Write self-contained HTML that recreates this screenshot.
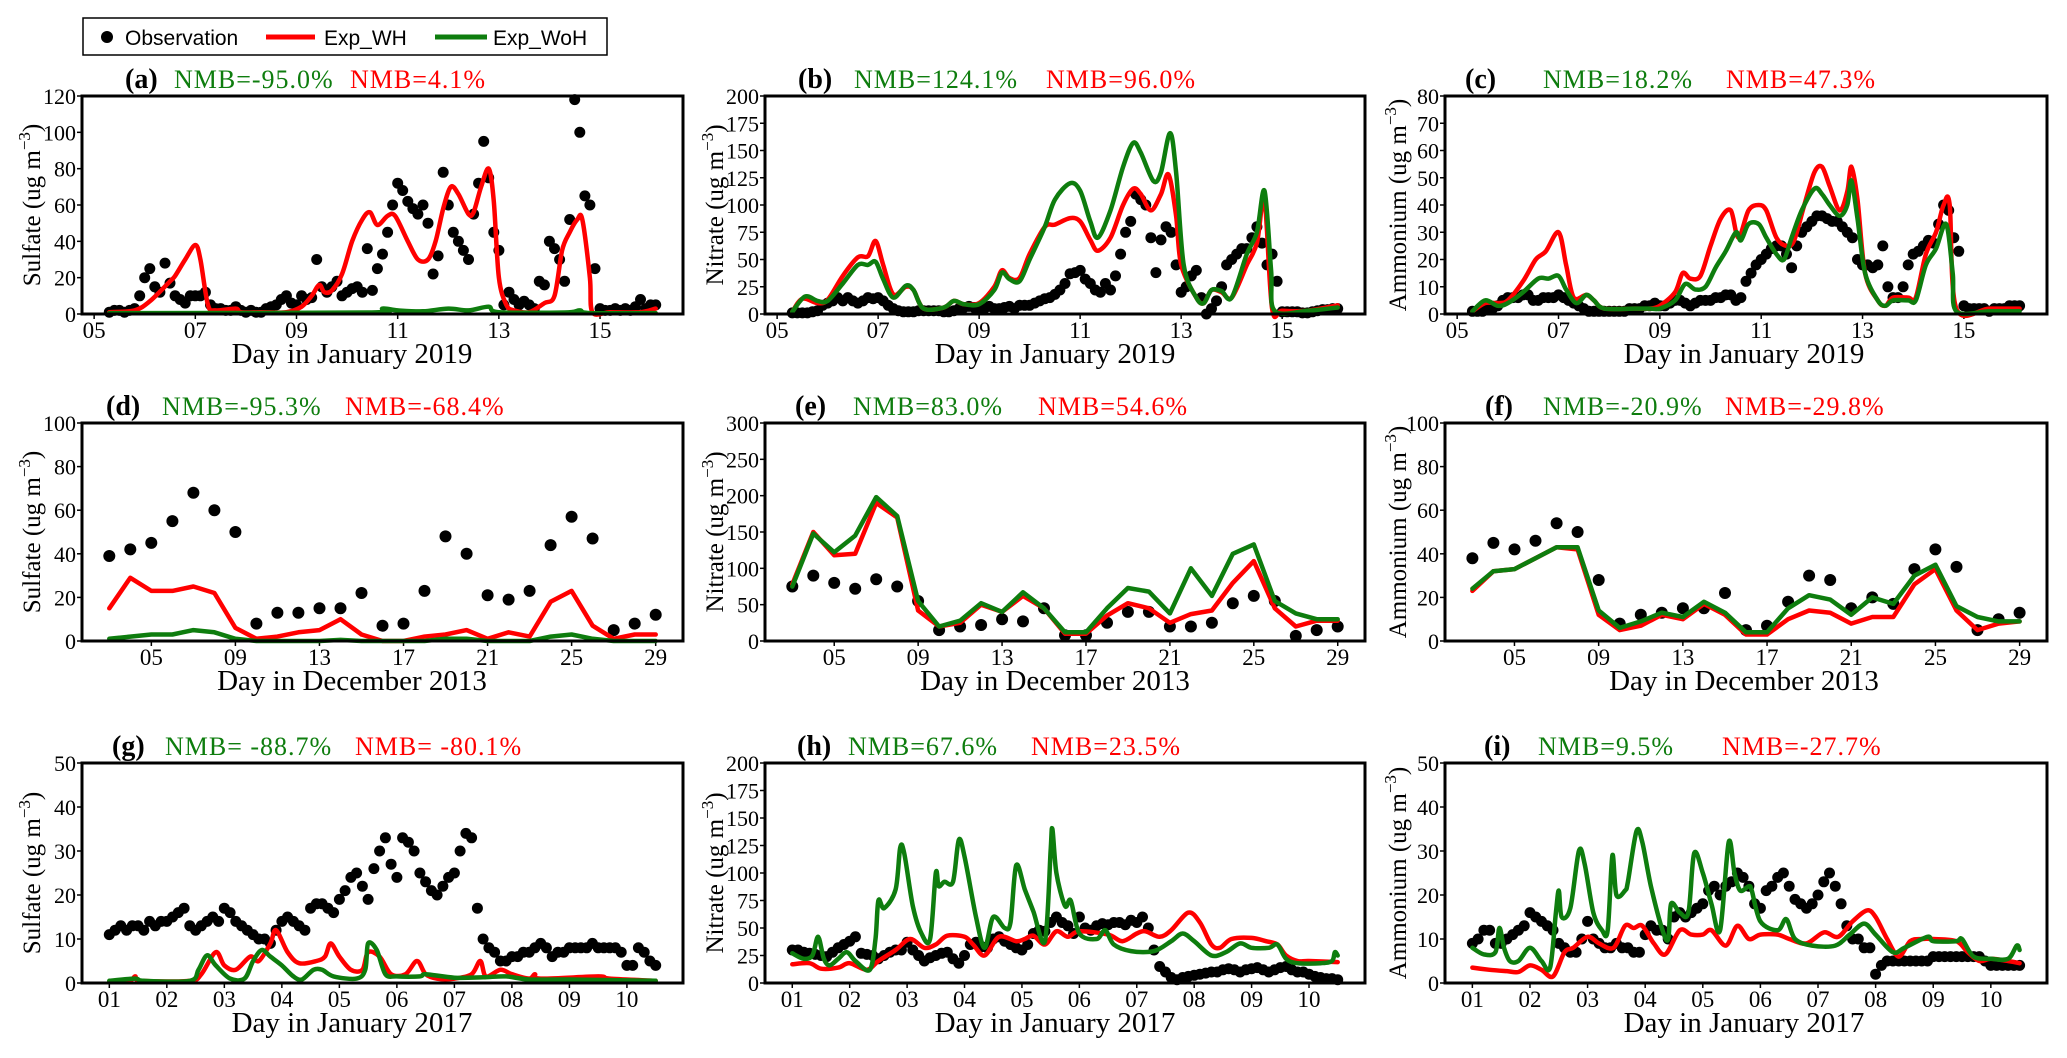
<!DOCTYPE html>
<html><head><meta charset="utf-8"><title>Sulfate, nitrate and ammonium: observations vs Exp_WH and Exp_WoH</title>
<style>
html,body{margin:0;padding:0;background:#fff;}
svg{display:block;}
text{font-family:"Liberation Serif",serif;}
.sans{font-family:"Liberation Sans",sans-serif;}
</style></head>
<body>
<svg id="chart" width="2067" height="1058" viewBox="0 0 2067 1058" xmlns="http://www.w3.org/2000/svg" fill="#000">
  <g>
    <rect x="83" y="18" width="524" height="37" fill="#fff" stroke="#000" stroke-width="1.5"/>
    <circle cx="107" cy="37" r="6" fill="#000"/>
    <text x="125" y="45" class="sans" font-size="21" fill="#000">Observation</text>
    <line x1="266" y1="37" x2="315" y2="37" stroke="#ff0000" stroke-width="5"/>
    <text x="324" y="45" class="sans" font-size="21" fill="#000">Exp_WH</text>
    <line x1="435" y1="37" x2="487" y2="37" stroke="#0e7d0e" stroke-width="5"/>
    <text x="493" y="45" class="sans" font-size="21" fill="#000">Exp_WoH</text>
  </g>
</svg>
<script>
// ---------- DATA ----------
const aObs = [1,2,2,1,2,3,10, 20,25,15,12,28,17,10,8,6,10, 10,10,12,5,3,3,2,2,4,2, 1,2,1,1,3,4,5,8,10,6, 5,10,8,9,30,15,12,15,18,10, 12,14,15,12,36,13,25,33,45,60, 72,68,62,58,55,60,50,22,32,78, 60,45,40,35,30,55,72,95,75,45, 35,5,12,8,5,7,5,3,18,16, 40,36,30,18,52,118,100,65,60,25, 3,2,2,3,2,3,2,4,8,3,5,5];
const aWhT = [5.3,5.8,6.1,6.5,6.6,6.8,7.0,7.1,7.25,7.4,7.8,7.9,8.3,8.8,9.1,9.3,9.45,9.55,9.7,9.9,10.1,10.3,10.45,10.6,10.8,10.95,11.2,11.4,11.6,11.75,11.9,12.05,12.2,12.4,12.5,12.65,12.8,12.9,13.0,13.15,13.3,13.6,13.9,14.1,14.25,14.4,14.55,14.65,14.8,14.85,15.2,15.8,16.1];
const aWhV = [1,2,7,18,21,30,38,30,5,2,3,1,1,1,4,10,16,12,13,22,40,52,56,49,54,54,40,30,30,40,58,70,66,55,56,70,80,62,20,5,2,1,6,10,35,45,52,52,20,1,1,1,3];
const aWohT = [5.3,10.4,10.7,11.0,11.5,12.0,12.4,12.8,13.0,14.3,14.6,14.8,16.1];
const aWohV = [0.5,0.8,3,2,1.5,3,2,4,1,0.8,2,0.5,0.5];

const bObs = [1,1,1,1,2,3,8, 10,12,15,12,15,12,10,12,15,14, 15,12,8,5,3,2,2,2,3,3, 3,3,3,2,2,3,5,6,7,6, 6,5,7,5,5,6,7,5,8,8, 8,10,12,14,15,18,22,28,37,38, 40,32,28,22,20,28,22,35,55,75, 85,110,105,100,70,38,68,80,75,45, 20,25,35,40,15,0,5,12,25,45, 50,55,60,60,70,80,65,45,55,30, 2,2,2,2,1,1,2,3,4,4,5,5];
const bWhT = [5.3,5.5,5.8,6.0,6.3,6.6,6.8,6.95,7.1,7.3,7.55,7.7,7.9,8.3,8.5,8.7,9.0,9.3,9.45,9.6,9.8,10.0,10.3,10.5,10.8,11.0,11.2,11.35,11.6,11.85,12.05,12.2,12.4,12.6,12.75,12.9,13.0,13.3,13.45,13.6,13.8,14.0,14.3,14.5,14.65,14.8,15.0,15.5,16.1];
const bWhV = [2,14,10,13,35,52,53,67,45,18,25,22,5,6,12,9,10,25,40,33,33,55,80,82,88,85,68,58,70,100,115,110,95,110,128,90,45,15,10,22,20,15,45,65,105,5,3,3,8];
const bWohT = [5.3,5.55,5.8,6.0,6.3,6.6,6.8,6.95,7.1,7.3,7.55,7.7,7.9,8.3,8.5,8.7,9.0,9.3,9.45,9.6,9.8,10.0,10.3,10.5,10.8,11.0,11.2,11.35,11.6,11.85,12.05,12.2,12.45,12.6,12.78,12.9,13.05,13.3,13.45,13.6,13.8,14.0,14.3,14.5,14.65,14.78,14.85,15.5,16.1];
const bWohV = [2,16,12,12,28,45,45,48,32,15,26,22,5,6,12,9,9,22,38,32,30,50,80,105,120,113,85,70,95,135,157,148,122,130,166,130,45,15,10,22,21,15,55,75,113,40,3,3,6];

const cObs = [1,1,1,2,2,3,5, 6,6,6,7,7,5,5,6,6,6, 7,6,5,4,3,2,1,1,1,1, 1,1,1,1,2,2,2,3,3,4, 3,3,4,5,5,4,3,4,5,5, 5,6,6,7,7,5,6,12,15,18, 20,22,24,25,25,22,17,25,30,32, 34,36,36,35,34,34,32,30,28,20, 18,18,17,18,25,10,6,6,10,18, 22,23,25,27,26,33,40,38,28,23, 3,2,2,2,2,1,2,2,2,3,3,3];
const cWhT = [5.3,5.55,5.8,6.0,6.3,6.55,6.75,7.0,7.15,7.3,7.55,7.7,7.9,8.5,8.8,9.0,9.3,9.45,9.6,9.8,10.0,10.2,10.4,10.55,10.75,10.95,11.1,11.3,11.5,11.65,11.85,12.05,12.2,12.35,12.55,12.7,12.78,12.9,13.05,13.3,13.45,13.6,13.9,14.05,14.25,14.45,14.6,14.72,14.85,15.5,16.1];
const cWhV = [1,4,4,5,12,20,23,30,18,6,7,5,2,2,2,3,8,15,13,14,25,35,38,28,38,40,38,28,25,27,40,52,54,47,38,45,54,42,15,5,3,6,6,6,22,30,40,40,2,2,2];
const cWohT = [5.3,5.55,5.8,6.0,6.3,6.6,6.8,7.0,7.15,7.35,7.55,7.7,7.9,8.5,8.8,9.0,9.3,9.5,9.7,9.9,10.1,10.3,10.5,10.6,10.75,10.95,11.1,11.3,11.45,11.6,11.8,12.05,12.2,12.35,12.55,12.7,12.78,12.9,13.05,13.3,13.45,13.6,13.9,14.05,14.25,14.45,14.65,14.78,14.85,15.5,16.1];
const cWohV = [1,5,3,4,8,13,13,14,9,4,7,5,2,2,2,2,5,11,9,10,17,23,30,27,33,33,28,22,20,28,38,46,44,40,36,40,49,35,15,5,3,5,5,5,18,24,33,15,1,1,1];

const decDays = [3,4,5,6,7,8,9,10,11,12,13,14,15,16,17,18,19,20,21,22,23,24,25,26,27,28,29];
const dObs = [39,42,45,55,68,60,50,8,13,13,15,15,22,7,8,23,48,40,21,19,23,44,57,47,5,8,12];
const dWh  = [15,29,23,23,25,22,6,1,2,4,5,10,3,0,0,2,3,5,1,4,2,18,23,7,1,3,3];
const dWoh = [1,2,3,3,5,4,1,0,0,0,0,0.5,0,0,0,0,1,1,0,0,0,2,3,1,0,0,0];
const eObs = [75,90,80,72,85,75,55,15,20,22,30,27,45,8,8,25,40,40,20,20,25,52,62,55,7,15,20];
const eWh  = [78,150,118,120,190,170,42,20,25,50,40,62,45,10,10,35,52,45,25,37,42,80,110,45,20,28,28];
const eWoh = [75,148,122,145,198,172,55,20,28,52,40,67,45,12,12,45,73,68,38,100,62,120,133,55,38,30,30];
const fObs = [38,45,42,46,54,50,28,8,12,13,15,15,22,5,7,18,30,28,15,20,17,33,42,34,5,10,13];
const fWh  = [23,32,33,38,43,42,12,5,7,12,10,17,12,3,3,10,14,13,8,11,11,26,33,14,5,8,9];
const fWoh = [24,32,33,38,43,43,14,6,9,13,11,18,13,4,4,15,21,19,12,20,17,30,35,16,11,9,9];

const gObs = [11,12,13,12,13,13,12,14,13,14, 14,15,16,17,13,12,13,14,15,14, 17,16,14,13,12,11,10,10,9,12, 14,15,14,13,12,17,18,18,17,16, 19,21,24,25,22,19,26,30,33,27, 24,33,32,30,25,23,21,20,22,24, 25,30,34,33,17,10,8,7,5,5, 6,6,7,7,8,9,8,6,7,7, 8,8,8,8,9,8,8,8,8,7, 4,4,8,7,5,4];
const gWhT = [1.0,1.35,1.45,1.55,2.4,2.6,2.85,3.0,3.2,3.45,3.6,3.8,3.9,4.1,4.3,4.6,4.75,4.85,5.0,5.2,5.4,5.5,5.7,5.9,6.15,6.35,6.5,6.7,7.0,7.3,7.45,7.55,7.8,8.0,8.3,8.4,8.5,9.5,9.7,10.5];
const gWhV = [0.3,0.5,1.5,0.5,0.5,2,7,4,3,6,5,9,12,7,4.5,5,6,9,6,3,3,7,6,2,2,5,2,1,1,2,5,1.5,3,2,1,2,1,1.5,1,0.5];
const gWohT = [1.0,1.45,1.6,2.4,2.55,2.7,2.85,3.1,3.35,3.5,3.65,3.8,4.0,4.2,4.35,4.55,4.7,4.9,5.3,5.45,5.5,5.65,5.8,6.0,6.4,6.5,7.0,7.5,7.9,8.3,9.0,10.5];
const gWohV = [0.5,1,0.5,0.5,3,6.3,4,1,1,5,7.5,6,4,1.5,0.8,3,3,1.5,1,3,9,7.5,2,1.5,1.5,2,1.2,1.3,1.5,0.8,0.8,0.5];

const hObs = [30,30,28,27,26,25,24,28,32,35, 38,42,27,26,25,22,25,28,30,30, 37,30,25,20,23,25,27,28,22,18, 25,35,37,33,32,40,42,38,35,32, 30,35,45,48,47,55,60,55,52,45, 60,50,48,52,54,53,55,55,53,57, 55,60,50,30,15,10,5,3,5,6, 7,8,9,10,10,12,13,12,10,12, 13,14,12,10,12,14,15,12,10,10, 8,6,5,4,4,3];
const hWhT = [1.0,1.3,1.5,1.8,2.0,2.3,2.5,2.8,3.05,3.3,3.5,3.7,4.0,4.15,4.35,4.6,4.9,5.05,5.2,5.4,5.6,5.8,6.0,6.5,6.75,7.0,7.15,7.4,7.6,7.9,8.1,8.3,8.45,8.65,9.0,9.25,9.45,9.6,9.8,10.0,10.5];
const hWhV = [17,18,13,14,18,12,20,30,40,32,35,43,42,35,25,42,38,40,43,35,47,42,47,44,38,45,47,42,48,64,55,35,32,40,41,38,35,25,20,20,19];
const hWohT = [1.0,1.2,1.35,1.45,1.55,1.65,1.8,1.95,2.1,2.35,2.45,2.5,2.6,2.8,2.88,2.95,3.1,3.25,3.4,3.5,3.55,3.65,3.8,3.9,4.0,4.2,4.35,4.5,4.7,4.8,4.9,5.05,5.2,5.4,5.5,5.53,5.6,5.75,5.85,6.0,6.3,6.45,6.6,6.9,7.3,7.6,7.8,8.0,8.3,8.55,8.8,9.0,9.3,9.45,9.6,9.8,10.2,10.4,10.45,10.5];
const hWohV = [27,22,25,42,22,16,22,28,20,12,40,75,68,85,123,118,70,45,40,100,88,92,92,130,115,60,32,60,50,55,107,85,65,38,120,140,100,70,75,45,40,48,35,29,29,38,45,38,25,28,36,32,32,35,22,18,18,20,28,25];

const iObs = [9,10,12,12,9,9,10,11,12,13, 16,15,14,13,12,9,8,7,7,10, 14,10,9,8,8,9,8,8,7,7, 11,13,12,12,10,15,16,15,16,17, 18,21,22,20,22,23,25,24,22,18, 17,21,22,24,25,22,19,18,17,18, 20,23,25,22,18,13,10,10,8,8, 2,4,5,5,5,5,5,5,5,5, 6,6,6,6,6,6,6,6,6,5, 4,4,4,4,4,4];
const iWhT = [1.0,1.3,1.6,1.8,2.0,2.2,2.4,2.6,2.75,3.0,3.2,3.45,3.65,3.8,3.95,4.15,4.35,4.6,4.8,5.0,5.15,5.4,5.6,5.8,6.0,6.3,6.5,6.8,7.1,7.35,7.6,7.85,8.0,8.2,8.4,8.6,8.8,9.0,9.4,9.6,9.8,10.0,10.3,10.5];
const iWhV = [3.5,3,2.7,2.5,4,3,1.5,7,8,10.5,9,8,13,12.5,13,9,6.5,12,11,11,12,8.5,13,10,11,11,10,9,11.5,10.5,14,16.5,15,10,6,9.5,10,10,9.5,7,5,5.5,5,4.5];
const iWohT = [1.0,1.2,1.4,1.47,1.55,1.65,1.8,2.0,2.2,2.35,2.45,2.5,2.55,2.7,2.85,2.95,3.1,3.25,3.35,3.43,3.5,3.65,3.7,3.85,3.95,4.1,4.3,4.4,4.45,4.6,4.75,4.85,5.0,5.15,5.3,5.45,5.55,5.65,5.8,5.85,6.0,6.3,6.45,6.6,6.9,7.3,7.55,7.8,8.0,8.3,8.5,8.9,9.0,9.4,9.5,9.7,10.0,10.3,10.45,10.5];
const iWohV = [8,6.5,7,12.5,8,5,5,8,5,3.5,16,21,15,17,30,27,16,12,12,29,20,21,23,34.5,32,22,12,10,18,16,16,29.5,25,18,12,32,25,21,22,21,14,12,14.5,10,8.5,8.5,11,13.5,11,7,8,10.5,9.5,9.5,10,6,5.5,5.5,8.5,7.5];

const ticksJan19 = [5,7,9,11,13,15];
const ticksDec13 = [5,9,13,17,21,25,29];
const ticksJan17 = [1,2,3,4,5,6,7,8,9,10];

// ---------- LAYOUT ----------
const NS = 'http://www.w3.org/2000/svg';
const svg = document.getElementById('chart');
const COLS = [[82,683],[765,1365],[1445,2047]];
const ROWS = [[96,314],[423,641],[763,983]];
const RED = '#ff0000', GREEN = '#0e7d0e';

function mk(tag, attrs, parent){
  const el = document.createElementNS(NS, tag);
  for (const k in attrs) el.setAttribute(k, attrs[k]);
  (parent || svg).appendChild(el);
  return el;
}
function obsTimes(n, t0, t1){ const a=[]; for(let i=0;i<n;i++) a.push(t0 + (t1-t0)*i/(n-1)); return a; }

const panels = [
 {id:'a',c:0,r:0,sp:'Sulfate',ymax:120,ystep:20,xt:ticksJan19,xr:[5.3,16.1],title:'Day in January 2019',g:'NMB=-95.0%',rd:'NMB=4.1%',lo:[43,92,268],
  obsV:aObs,obsT:null,wh:[aWhT,aWhV],woh:[aWohT,aWohV],smooth:true},
 {id:'b',c:1,r:0,sp:'Nitrate',ymax:200,ystep:25,xt:ticksJan19,xr:[5.3,16.1],title:'Day in January 2019',g:'NMB=124.1%',rd:'NMB=96.0%',lo:[33,89,281],
  obsV:bObs,obsT:null,wh:[bWhT,bWhV],woh:[bWohT,bWohV],smooth:true},
 {id:'c',c:2,r:0,sp:'Ammonium',ymax:80,ystep:10,xt:ticksJan19,xr:[5.3,16.1],title:'Day in January 2019',g:'NMB=18.2%',rd:'NMB=47.3%',lo:[20,98,281],
  obsV:cObs,obsT:null,wh:[cWhT,cWhV],woh:[cWohT,cWohV],smooth:true},
 {id:'d',c:0,r:1,sp:'Sulfate',ymax:100,ystep:20,xt:ticksDec13,xr:[3,29],title:'Day in December 2013',g:'NMB=-95.3%',rd:'NMB=-68.4%',lo:[24,80,263],
  obsV:dObs,obsT:decDays,wh:[decDays,dWh],woh:[decDays,dWoh],smooth:false},
 {id:'e',c:1,r:1,sp:'Nitrate',ymax:300,ystep:50,xt:ticksDec13,xr:[3,29],title:'Day in December 2013',g:'NMB=83.0%',rd:'NMB=54.6%',lo:[30,88,273],
  obsV:eObs,obsT:decDays,wh:[decDays,eWh],woh:[decDays,eWoh],smooth:false},
 {id:'f',c:2,r:1,sp:'Ammonium',ymax:100,ystep:20,xt:ticksDec13,xr:[3,29],title:'Day in December 2013',g:'NMB=-20.9%',rd:'NMB=-29.8%',lo:[40,98,280],
  obsV:fObs,obsT:decDays,wh:[decDays,fWh],woh:[decDays,fWoh],smooth:false},
 {id:'g',c:0,r:2,sp:'Sulfate',ymax:50,ystep:10,xt:ticksJan17,xr:[1,10.5],title:'Day in January 2017',g:'NMB= -88.7%',rd:'NMB= -80.1%',lo:[30,83,273],
  obsV:gObs,obsT:null,wh:[gWhT,gWhV],woh:[gWohT,gWohV],smooth:true},
 {id:'h',c:1,r:2,sp:'Nitrate',ymax:200,ystep:25,xt:ticksJan17,xr:[1,10.5],title:'Day in January 2017',g:'NMB=67.6%',rd:'NMB=23.5%',lo:[32,83,266],
  obsV:hObs,obsT:null,wh:[hWhT,hWhV],woh:[hWohT,hWohV],smooth:true},
 {id:'i',c:2,r:2,sp:'Ammonium',ymax:50,ystep:10,xt:ticksJan17,xr:[1,10.5],title:'Day in January 2017',g:'NMB=9.5%',rd:'NMB=-27.7%',lo:[39,93,277],
  obsV:iObs,obsT:null,wh:[iWhT,iWhV],woh:[iWohT,iWohV],smooth:true}
];

function pathFrom(pts, smooth){
  if (!pts.length) return '';
  let d = 'M' + pts[0][0].toFixed(1) + ',' + pts[0][1].toFixed(1);
  if (!smooth){ for (let i=1;i<pts.length;i++) d += 'L' + pts[i][0].toFixed(1) + ',' + pts[i][1].toFixed(1); return d; }
  for (let i=0;i<pts.length-1;i++){
    const p0 = pts[i-1]||pts[i], p1 = pts[i], p2 = pts[i+1], p3 = pts[i+2]||pts[i+1];
    const t = 0.16;
    const c1 = [p1[0]+(p2[0]-p0[0])*t, p1[1]+(p2[1]-p0[1])*t];
    const c2 = [p2[0]-(p3[0]-p1[0])*t, p2[1]-(p3[1]-p1[1])*t];
    d += 'C'+c1[0].toFixed(1)+','+c1[1].toFixed(1)+' '+c2[0].toFixed(1)+','+c2[1].toFixed(1)+' '+p2[0].toFixed(1)+','+p2[1].toFixed(1);
  }
  return d;
}

panels.forEach(p => {
  const [x0,x1] = COLS[p.c], [y0,y1] = ROWS[p.r];
  const span = p.xr[1]-p.xr[0];
  const d0 = p.xr[0]-0.05*span, d1 = p.xr[1]+0.05*span;
  const sx = v => x0 + (v-d0)/(d1-d0)*(x1-x0);
  const sy = v => y1 - v/p.ymax*(y1-y0);

  const g = mk('g', {});
  
  

  for (let v=0; v<=p.ymax+1e-9; v+=p.ystep){
    const tk = mk('line', {x1:x0-5, x2:x0, y1:sy(v), y2:sy(v), stroke:'#000','stroke-width':1.5}, g);
    
    
    const tl = mk('text', {x:x0-6, y:sy(v)+8, 'text-anchor':'end','font-size':22, fill:'#000'}, g);
    
    
    tl.textContent = String(v);
  }
  p.xt.forEach(v => {
    const tk = mk('line', {x1:sx(v), x2:sx(v), y1:y1, y2:y1+5, stroke:'#000','stroke-width':1.5}, g);
    
    
    const tl = mk('text', {x:sx(v), y:y1+24, 'text-anchor':'middle','font-size':23, fill:'#000'}, g);
    
    
    tl.textContent = (v<10?'0':'') + v;
  });

  const ot = p.obsT || obsTimes(p.obsV.length, p.xr[0], p.xr[1]);
  const og = mk('g', {fill:'#000'}, g);
  
  
  for (let i=0;i<Math.min(ot.length,p.obsV.length);i++){
    const c = mk('circle', {cx:sx(ot[i]).toFixed(1), cy:sy(p.obsV[i]).toFixed(1), r:p.obsT?6:5.5}, og);
    
    
  }
  const series = [[p.wh, RED, 'exp-wh-line'], [p.woh, GREEN, 'exp-woh-line']];
  series.forEach(s => {
    const [T,V] = s[0];
    const pts = [];
    for (let i=0;i<Math.min(T.length,V.length);i++) pts.push([sx(T[i]), sy(V[i])]);
    const ln = mk('path', {d:pathFrom(pts,p.smooth), fill:'none', stroke:s[1], 'stroke-width':4.5, 'stroke-linejoin':'round','stroke-linecap':'round'}, g);
    
    
  });

  const fr = mk('rect', {x:x0, y:y0, width:x1-x0, height:y1-y0, fill:'none', stroke:'#000','stroke-width':3}, g);
  
  

  const base = y0 - 8;
  const lb = mk('text', {x:x0+p.lo[0], y:base, 'font-size':28, 'font-weight':'bold', fill:'#000'}, g);
  
  
  lb.textContent = '(' + p.id + ')';
  const ng = mk('text', {x:x0+p.lo[1], y:base, 'font-size':26, fill:GREEN, 'letter-spacing':1}, g);
  
  
  ng.textContent = p.g;
  const nr = mk('text', {x:x0+p.lo[2], y:base, 'font-size':26, fill:RED, 'letter-spacing':1}, g);
  
  
  nr.textContent = p.rd;

  const xcen = [352,1055,1744][p.c];
  const xt = mk('text', {x:xcen, y:y1+49, 'text-anchor':'middle', 'font-size':29, fill:'#000'}, g);
  
  
  xt.textContent = p.title;

  const yx = x0 - (p.c===2 ? 47 : 50) + 8;
  const yc = (y0+y1)/2;
  const yt = mk('text', {transform:'translate('+yx+','+yc+') rotate(-90)', 'text-anchor':'middle', 'font-size':25, fill:'#000'}, g);
  
  
  const t1 = mk('tspan', {}, yt); t1.textContent = p.sp + ' (ug m';
  const t2 = mk('tspan', {dy:-10, 'font-size':17}, yt); t2.textContent = '\u2212' + '3';
  const t3 = mk('tspan', {dy:10}, yt); t3.textContent = ')';
});
</script>
</body></html>
